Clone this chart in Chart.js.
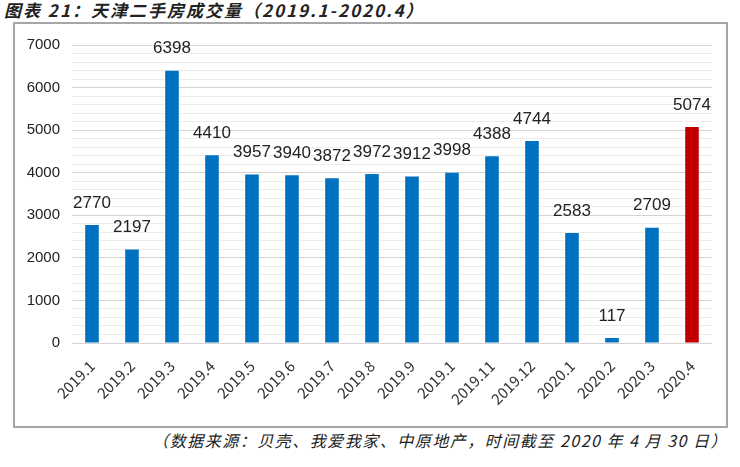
<!DOCTYPE html>
<html>
<head>
<meta charset="utf-8">
<script src="https://cdn.jsdelivr.net/npm/chart.js@4"></script>
<style>
  html, body { margin: 0; padding: 0; background: #fff; }
  body { width: 740px; height: 467px; position: relative; overflow: hidden; }
  #title {
    position: absolute; left: 4px; top: 0px;
    font-family: "Noto Sans CJK SC", sans-serif; font-size: 17px; font-weight: bold; font-style: italic;
    letter-spacing: 2px; color: #222; line-height: 20px;
  }
  #frame {
    position: absolute; left: 13px; top: 22px; width: 711px; height: 402px;
    border: 2px solid #a6a6a6;
  }
  #note {
    position: absolute; right: 12px; top: 430px;
    font-family: "Noto Sans CJK SC", sans-serif; font-size: 16px; font-style: italic;
    letter-spacing: 1.5px; color: #222; line-height: 20px;
  }
</style>
</head>
<body>
<div id="title">图表 21：天津二手房成交量（2019.1-2020.4）</div>
<div id="frame"><canvas id="c" width="711" height="402"></canvas></div>
<div id="note">（数据来源：贝壳、我爱我家、中原地产，时间截至 2020 年 4 月 30 日）</div>
<script>
// 月份標籤（原圖 10 月顯示為 2019.1）
const months = ['2019.1', '2019.2', '2019.3', '2019.4', '2019.5', '2019.6', '2019.7', '2019.8',
  '2019.9', '2019.1', '2019.11', '2019.12', '2020.1', '2020.2', '2020.3', '2020.4'];
// 成交量（套）
const volumes = [2770, 2197, 6398, 4410, 3957, 3940, 3872, 3972, 3912, 3998, 4388, 4744, 2583, 117, 2709, 5074];
// 最新月份標紅
const highlight = [false, false, false, false, false, false, false, false,
  false, false, false, false, false, false, false, true];

const BLUE = '#0070C0';
const RED = '#C00000';

// 柱頂數值標籤
const valueLabels = {
  id: 'valueLabels',
  afterDatasetsDraw(chart) {
    const ctx = chart.ctx;
    const meta = chart.getDatasetMeta(0);
    ctx.save();
    ctx.font = '17px "Liberation Sans", Arial, sans-serif';
    ctx.fillStyle = '#222';
    ctx.textAlign = 'center';
    ctx.textBaseline = 'middle';
    meta.data.forEach((bar, i) => {
      ctx.fillText(String(volumes[i]), bar.x, bar.y - 22);
    });
    ctx.restore();
  },
};

new Chart(document.getElementById('c'), {
  type: 'bar',
  data: {
    labels: months,
    datasets: [{
      data: volumes,
      backgroundColor: highlight.map((h) => (h ? RED : BLUE)),
      barPercentage: 0.68,
      categoryPercentage: 0.5,
    }],
  },
  options: {
    responsive: false,
    animation: false,
    devicePixelRatio: 1,
    layout: { padding: { left: 0, right: 14, top: 19, bottom: 0 } },
    plugins: { legend: { display: false }, tooltip: { enabled: false } },
    scales: {
      x: {
        grid: { display: false },
        border: { display: false },
        afterFit: (s) => { s.height = 83; },
        ticks: {
          color: '#333',
          padding: 6,
          font: { family: "'Noto Sans CJK SC', sans-serif", size: 15 },
          maxRotation: 45,
          minRotation: 45,
          autoSkip: false,
        },
      },
      y: {
        min: 0,
        max: 7000,
        border: { display: false },
        afterFit: (s) => { s.width = 57; },
        grid: {
          color: (c) => (c.tick && c.tick.value % 1000 === 0 ? '#d4d4d4' : '#ececec'),
          lineWidth: 1,
          drawTicks: false,
        },
        ticks: {
          stepSize: 200,
          autoSkip: false,
          padding: 12,
          color: '#222',
          font: { family: "'Liberation Sans', Arial, sans-serif", size: 15 },
          callback: (v) => (v % 1000 === 0 ? String(v) : ''),
        },
      },
    },
  },
  plugins: [valueLabels],
});
</script>
</body>
</html>
